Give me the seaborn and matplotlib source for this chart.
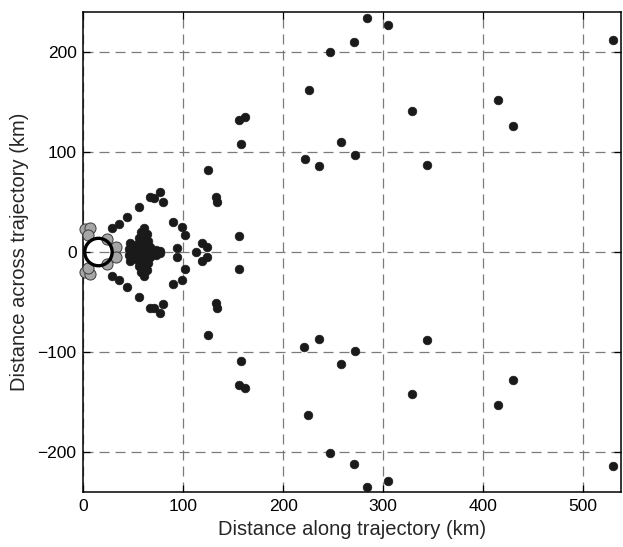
import matplotlib
matplotlib.use("Agg")
import matplotlib.pyplot as plt
import seaborn as sns
import pandas as pd

# Scattered sample locations (km) relative to the trajectory
along_km = [
    # far field, upper
    284, 305, 271, 247, 530, 226, 329, 415, 430, 258, 222, 236, 272, 344,
    # far field, lower
    284, 305, 271, 247, 530, 225, 329, 415, 430, 258, 221, 236, 272, 344,
    # mid field, upper
    156, 162, 158, 125, 133, 134, 77, 67, 71, 80, 56, 44, 36, 29, 90, 99, 102, 94, 156, 119, 124,
    # mid field, lower
    156, 162, 158, 125, 133, 134, 77, 67, 71, 80, 56, 44, 36, 29, 90, 99, 102, 94, 156, 119, 124,
    # on-axis
    113,
    # dense core, upper
    61, 58, 64, 56, 61, 65, 47, 53, 59, 67, 73, 77, 46, 52,
    # dense core, lower
    61, 58, 64, 56, 61, 65, 47, 53, 59, 67, 73, 77, 46, 52,
    # dense core, axis
    56, 63, 70,
]
across_km = [
    234, 227, 210, 200, 212, 162, 141, 152, 126, 110, 93, 86, 97, 87,
    -235, -229, -212, -201, -214, -163, -142, -153, -128, -112, -95, -87, -99, -88,
    132, 135, 108, 82, 55, 50, 60, 55, 54, 50, 45, 35, 28, 24, 30, 25, 17, 4.5, 16.5, 8.7, 5.3,
    -133, -136, -109, -83, -51, -56, -61, -56, -56, -52, -45, -35, -28, -24, -32, -28, -17, -4.5, -16.5, -8.7, -5.3,
    0,
    24, 20, 18, 14, 12, 11, 9, 7, 6, 5, 2.5, 1, 3, 2,
    -24, -20, -18, -14, -12, -11, -9, -7, -6, -5, -2.5, -1, -3, -2,
    0, 0, 0,
]

# Near-source samples (grey)
near_along_km = [2, 7, 5, 24, 33, 33, 24, 2, 7, 5]
near_across_km = [23, 24, 17, 13, 5, -5, -12, -20, -22, -16]

# Source location
source_along_km = [15]
source_across_km = [0]

sns.set_style("white")
plt.rcParams["font.family"] = ["Liberation Sans", "DejaVu Sans"]
plt.rcParams["axes.unicode_minus"] = True

fig = plt.figure(figsize=(6.23, 5.47), dpi=100)
ax = fig.add_axes([0.134, 0.1005, 0.862, 0.8775])

far = pd.DataFrame({"along": along_km, "across": across_km})
near = pd.DataFrame({"along": near_along_km, "across": near_across_km})
src = pd.DataFrame({"along": source_along_km, "across": source_across_km})

sns.scatterplot(data=far, x="along", y="across", ax=ax, s=40,
                color="#1a1a1a", edgecolor="#1a1a1a", linewidth=0.4, zorder=3)
sns.scatterplot(data=near, x="along", y="across", ax=ax, s=64,
                color="#a6a6a6", edgecolor="#3a3a3a", linewidth=0.7, zorder=4,
                clip_on=False)
sns.scatterplot(data=src, x="along", y="across", ax=ax, s=390,
                facecolor="none", edgecolor="black", linewidth=2.4, zorder=5)

ax.set_xlim(0, 538)
ax.set_ylim(-240, 240)
ax.set_xticks([0, 100, 200, 300, 400, 500])
ax.set_yticks([-200, -100, 0, 100, 200])

ax.grid(True, color="#7a7a7a", linewidth=0.9, linestyle=(0, (8, 4.8)))
ax.set_axisbelow(True)

for sp in ax.spines.values():
    sp.set_color("black")
    sp.set_linewidth(1.1)

ax.tick_params(direction="in", length=5, width=0.9, top=True, right=True,
               bottom=True, left=True, labelsize=12.5, colors="black", pad=5)

ax.set_xlabel("Distance along trajectory (km)", fontsize=14.5, labelpad=4)
ax.set_ylabel("Distance across trajectory (km)", fontsize=14.5, labelpad=6)

fig.savefig("out.png", dpi=100)
